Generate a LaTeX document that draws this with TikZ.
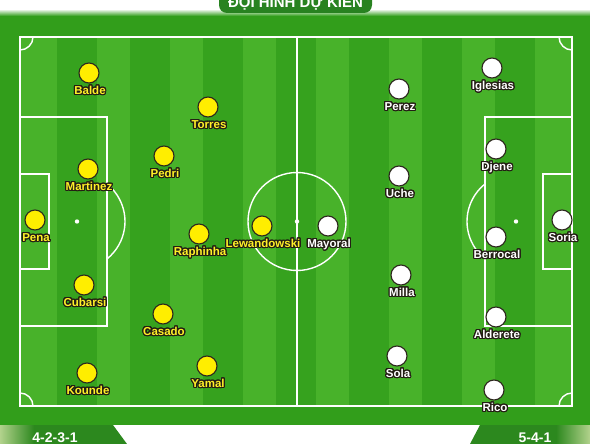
\documentclass[tikz,border=0pt]{standalone}
\usepackage{fontspec}
\setmainfont{Liberation Sans}
\usepackage[copies]{contour}
\contourlength{1.1pt}
\contournumber{24}
\usetikzlibrary{positioning}
\definecolor{grassBase}{RGB}{50,158,27}
\definecolor{grassLight}{RGB}{72,178,42}
\definecolor{grassDark}{RGB}{54,162,30}
\definecolor{tabGreen}{RGB}{44,136,30}
\definecolor{tabLight}{RGB}{178,210,140}
\definecolor{pillGreen}{RGB}{40,130,32}
\definecolor{homeYellow}{RGB}{255,238,0}
\definecolor{homeText}{RGB}{255,240,40}
\definecolor{kitEdge}{RGB}{45,40,30}
\definecolor{nameEdge}{RGB}{35,30,20}
\newcommand{\pname}[1]{\contour{nameEdge}{#1}}

\begin{document}
\begin{tikzpicture}[x=1pt, y=-1pt,
  pitchline/.style={draw=white, line width=1.4pt},
  home/.style={
    circle, draw=kitEdge, line width=1.1pt,
    fill=homeYellow, minimum size=20pt, inner sep=0pt
  },
  away/.style={home, fill=white},
  homename/.style={
    font=\bfseries\fontsize{11.5}{13}\selectfont, text=homeText,
    inner sep=0pt, text height=8.5pt, text depth=2pt, xshift=1pt
  },
  awayname/.style={homename, text=white},
  titlepill/.style={
    fill=pillGreen, rounded corners=8pt, minimum width=153pt, minimum height=21pt,
    inner sep=0pt, text=white, font=\bfseries\fontsize{15}{17}\selectfont
  },
  tabtext/.style={font=\bfseries\fontsize{14}{16}\selectfont, text=white, inner sep=0pt}
]

\useasboundingbox (0,0) rectangle (590,444);
\fill[white] (0,0) rectangle (590,444);

% grass
\fill[grassBase] (0,15) rectangle (590,425);
\shade[top color=white, bottom color=grassBase] (0,9) rectangle (590,16);
\fill[grassLight] (20,37) rectangle (572,406);
\foreach \sx in {57,130,...,495}
  \fill[grassDark] (\sx,37) rectangle ++(40,369);

% markings
\draw[pitchline] (20,37) rectangle (572,406);
\draw[pitchline] (297,37) -- (297,406);
\draw[pitchline] (297,221.5) circle[radius=49];
\fill[white] (297,221.5) circle[radius=2.2];
\draw[pitchline] (20,117) rectangle (107,326);
\draw[pitchline] (20,174) rectangle (49,269);
\fill[white] (77,221.5) circle[radius=2.2];
\draw[pitchline] (107,184) arc[start angle=-51.3, end angle=51.3, radius=48];
\draw[pitchline] (485,117) rectangle (572,326);
\draw[pitchline] (543,174) rectangle (572,269);
\fill[white] (516,221.5) circle[radius=2.2];
\draw[pitchline] (485,184) arc[start angle=231.3, end angle=128.7, radius=48];
\draw[pitchline] (33,37) arc[start angle=0, end angle=90, radius=13];
\draw[pitchline] (559,37) arc[start angle=180, end angle=90, radius=13];
\draw[pitchline] (33,406) arc[start angle=0, end angle=-90, radius=13];
\draw[pitchline] (559,406) arc[start angle=180, end angle=270, radius=13];

% title and formations
\node[titlepill] (title) at (295.5,2.5) {ĐỘI HÌNH DỰ KIẾN};
\fill[tabGreen] (0,425) -- (113,425) -- (127,444) -- (0,444) -- cycle;
\shade[left color=tabLight, right color=tabGreen] (0,425) rectangle (34,444);
\fill[tabGreen] (480,425) -- (590,425) -- (590,444) -- (470,444) -- cycle;
\shade[left color=tabGreen, right color=tabLight] (556,425) rectangle (590,444);
\node[tabtext] (homeshape) at (55,438) {4-2-3-1};
\node[tabtext] (awayshape) at (535,438) {5-4-1};

% Barcelona
\node[home] (pena) at (35,220) {};
\node[homename, below=2pt of pena] (pena-name) {\pname{Pena}};
\node[home] (balde) at (89,73) {};
\node[homename, below=2pt of balde] (balde-name) {\pname{Balde}};
\node[home] (martinez) at (88,169) {};
\node[homename, below=2pt of martinez] (martinez-name) {\pname{Martinez}};
\node[home] (cubarsi) at (84,285) {};
\node[homename, below=2pt of cubarsi] (cubarsi-name) {\pname{Cubarsi}};
\node[home] (kounde) at (87,373) {};
\node[homename, below=2pt of kounde] (kounde-name) {\pname{Kounde}};
\node[home] (pedri) at (164,156) {};
\node[homename, below=2pt of pedri] (pedri-name) {\pname{Pedri}};
\node[home] (casado) at (163,314) {};
\node[homename, below=2pt of casado] (casado-name) {\pname{Casado}};
\node[home] (torres) at (208,107) {};
\node[homename, below=2pt of torres] (torres-name) {\pname{Torres}};
\node[home] (raphinha) at (199,234) {};
\node[homename, below=2pt of raphinha] (raphinha-name) {\pname{Raphinha}};
\node[home] (yamal) at (207,366) {};
\node[homename, below=2pt of yamal] (yamal-name) {\pname{Yamal}};
\node[home] (lewandowski) at (262,226) {};
\node[homename, below=2pt of lewandowski] (lewandowski-name) {\pname{Lewandowski}};

% opponents
\node[away] (mayoral) at (328,226) {};
\node[awayname, below=2pt of mayoral] (mayoral-name) {\pname{Mayoral}};
\node[away] (perez) at (399,89) {};
\node[awayname, below=2pt of perez] (perez-name) {\pname{Perez}};
\node[away] (uche) at (399,176) {};
\node[awayname, below=2pt of uche] (uche-name) {\pname{Uche}};
\node[away] (milla) at (401,275) {};
\node[awayname, below=2pt of milla] (milla-name) {\pname{Milla}};
\node[away] (sola) at (397,356) {};
\node[awayname, below=2pt of sola] (sola-name) {\pname{Sola}};
\node[away] (iglesias) at (492,68) {};
\node[awayname, below=2pt of iglesias] (iglesias-name) {\pname{Iglesias}};
\node[away] (djene) at (496,149) {};
\node[awayname, below=2pt of djene] (djene-name) {\pname{Djene}};
\node[away] (berrocal) at (496,237) {};
\node[awayname, below=2pt of berrocal] (berrocal-name) {\pname{Berrocal}};
\node[away] (alderete) at (496,317) {};
\node[awayname, below=2pt of alderete] (alderete-name) {\pname{Alderete}};
\node[away] (rico) at (494,390) {};
\node[awayname, below=2pt of rico] (rico-name) {\pname{Rico}};
\node[away] (soria) at (562,220) {};
\node[awayname, below=2pt of soria] (soria-name) {\pname{Soria}};

\end{tikzpicture}
\end{document}
